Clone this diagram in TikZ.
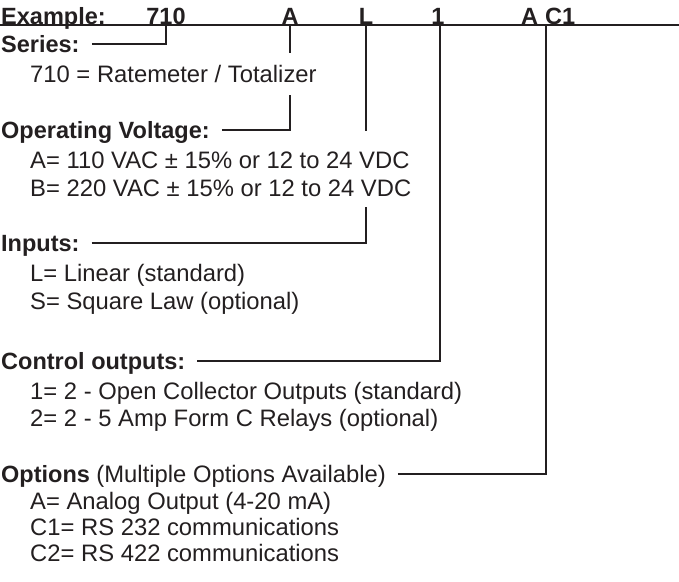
\documentclass[tikz,border=0pt]{standalone}
\usepackage{fontspec}
\setmainfont{Liberation Sans}
\definecolor{ink}{HTML}{231F20}
\tikzset{
  head/.style={anchor=base west, inner sep=0pt, font=\fontsize{23.5}{28}\selectfont\bfseries, text=ink},
  item/.style={anchor=base west, inner sep=0pt, font=\fontsize{23.8}{28}\selectfont, text=ink},
  code/.style={anchor=base, inner sep=0pt, font=\fontsize{23.5}{28}\selectfont\bfseries, text=ink},
  conn/.style={draw=ink, line width=2pt},
  lead/.style={shift={(12,8.5)}}
}
\begin{document}
\begin{tikzpicture}[x=1pt,y=1pt]
\useasboundingbox (0,0) rectangle (679,-581);
% top row
\node[head] (ex) at (1,-24) {Example:};
\node[code] (c710) at (166,-24) {710};
\node[code] (cA) at (290,-24) {A};
\node[code] (cL) at (366,-24) {L};
\node[code] (cOne) at (438,-24) {1};
\node[code] (cA2) at (529.5,-24) {A};
\node[code, anchor=base west] (cC1) at (545,-24) {C1};
\coordinate (tl0) at (0,-25.3);
\coordinate (tl1) at (679,-25.3);
\draw[conn] (tl0) -- (tl1);
% vertical positions on the top line
\coordinate (v710) at (166,-25.3);
\coordinate (vA) at (290,-25.3);
\coordinate (vL) at (366,-25.3);
\coordinate (vOne) at (440,-25.3);
\coordinate (vC) at (546,-25.3);
\coordinate (aBreak1) at (290,-53);
\coordinate (aBreak2) at (290,-95);
\coordinate (lBreak1) at (366,-131);
\coordinate (lBreak2) at (366,-207);
% texts
\node[head] (series) at (1,-52) {Series:};
\node[item] (s1) at (30,-82) {710 = Ratemeter / Totalizer};
\node[head] (opv) at (1,-138.5) {Operating Voltage:};
\node[item] (va) at (30,-168) {A= 110 VAC ± 15\% or 12 to 24 VDC};
\node[item] (vb) at (30,-196) {B= 220 VAC ± 15\% or 12 to 24 VDC};
\node[head] (inp) at (1,-251.5) {Inputs:};
\node[item] (il) at (30,-281) {L= Linear (standard)};
\node[item] (is) at (30,-309) {S= Square Law (optional)};
\node[head] (ctl) at (1,-369.5) {Control outputs:};
\node[item] (o1) at (30,-399) {1= 2 - Open Collector Outputs (standard)};
\node[item] (o2) at (30,-426) {2= 2 - 5 Amp Form C Relays (optional)};
\node[head] (opt) at (1,-482.5) {Options {\mdseries\fontsize{23.8}{28}\selectfont(Multiple Options Available)}};
\node[item] (oa) at (30,-509) {A= Analog Output (4-20 mA)};
\node[item] (oc1) at (30,-535) {C1= RS 232 communications};
\node[item] (oc2) at (30,-561) {C2= RS 422 communications};
% connectors
\draw[conn] ([lead]series.base east) -| (v710);
\draw[conn] (vA) -- (aBreak1);
\draw[conn] ([lead]opv.base east) -| (aBreak2);
\draw[conn] (vL) -- (lBreak1);
\draw[conn] ([lead]inp.base east) -| (lBreak2);
\draw[conn] ([lead]ctl.base east) -| (vOne);
\draw[conn] ([lead]opt.base east) -| (vC);
\end{tikzpicture}
\end{document}
